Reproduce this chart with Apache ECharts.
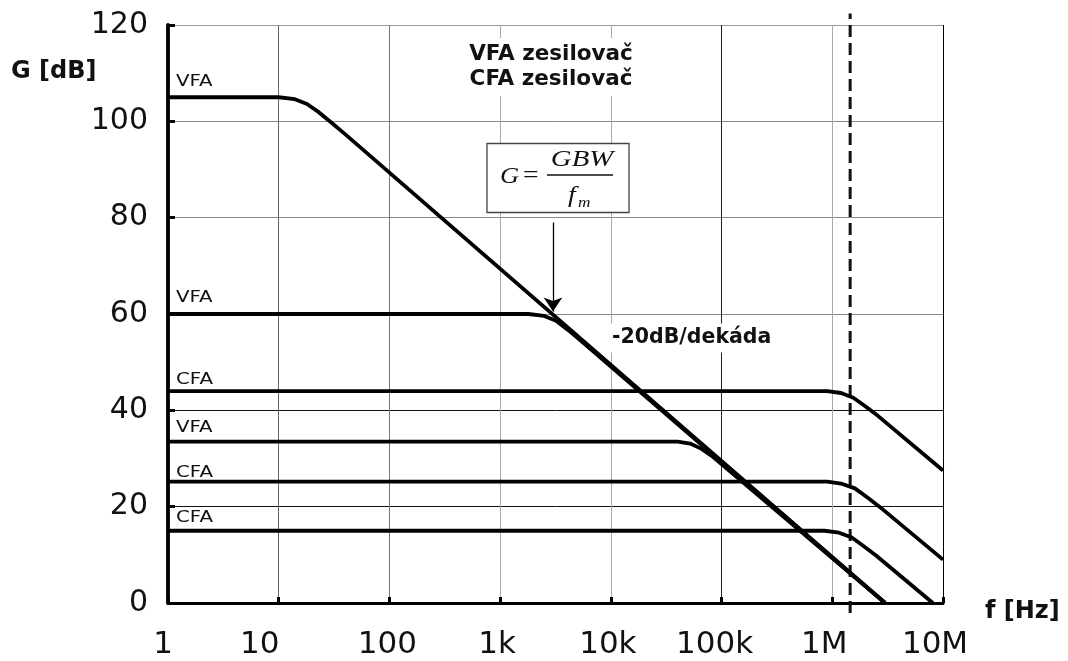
<!DOCTYPE html>
<html>
<head>
<meta charset="utf-8">
<script src="https://cdn.jsdelivr.net/npm/echarts@6/dist/echarts.min.js"></script>
<style>html,body{margin:0;padding:0;background:#fff}#c{width:1068px;height:661px}</style>
</head>
<body>
<div id="c"></div>
<script>
// Frequency decades and their labels
const freqTicks = [1, 10, 100, 1e3, 1e4, 1e5, 1e6, 1e7];
const freqLabels = ['1', '10', '100', '1k', '10k', '100k', '1M', '10M'];
// Gain axis
const gainMin = 0, gainMax = 120, gainStep = 20;

// Curves [frequency Hz, gain dB]
const vfa105 = [[1, 105], [10, 105], [14, 104.6], [18, 103.6], [23, 101.9], [30, 99.7], [40, 97.3], [3e6, 0]];
const vfa60  = [[1, 60], [1800, 60], [2500, 59.6], [3200, 58.6], [4100, 56.7], [5400, 54.4], [3e6, 0]];
const vfa34  = [[1, 33.5], [40000, 33.5], [52000, 33.1], [66000, 32.0], [84000, 30.3], [110000, 28.0], [3e6, 0]];
const cfa44  = [[1, 44], [0.9e6, 44], [1.2e6, 43.6], [1.55e6, 42.6], [2e6, 40.8], [2.6e6, 38.8], [1e7, 27.5]];
const cfa25  = [[1, 25.2], [0.9e6, 25.2], [1.2e6, 24.8], [1.6e6, 23.8], [2.05e6, 22.0], [2.7e6, 19.9], [1e7, 9]];
const cfa15  = [[1, 15], [0.85e6, 15], [1.15e6, 14.6], [1.5e6, 13.6], [1.9e6, 11.9], [2.5e6, 9.8], [8.1e6, 0]];
// Dashed marker at ~1.45 MHz
const dashedLine = [[1.45e6, -2.1], [1.45e6, 122.4]];
// Arrow pointing at GBW curve
const arrowFrom = [3000, 79], arrowTo = [3000, 60.5];

// Curve labels
const curveLabels = ['VFA', 'VFA', 'CFA', 'VFA', 'CFA', 'CFA'];

const chart = echarts.init(document.getElementById('c'), null, {renderer: 'canvas'});
const FONT = '"DejaVu Sans", sans-serif';
const curves = [vfa105, vfa60, vfa34, cfa44, cfa25, cfa15];
const labelCurveOrder = [0, 1, 3, 2, 4, 5];
const labelLift = [16, 16, 11, 14, 9, 13];

function curve(data) {
  return {
    type: 'line', data: data, showSymbol: false, smooth: false,
    lineStyle: {color: '#000', width: 3.8, join: 'round'}, z: 5, silent: true
  };
}

const series = curves.map(curve);
series[1].markLine = {
  silent: true, symbol: ['none', 'arrow'], symbolSize: 14,
  label: {show: false},
  lineStyle: {color: '#000', width: 1.3, type: 'solid'},
  data: [[{coord: arrowFrom}, {coord: arrowTo}]]
};
series.push({
  type: 'line', data: dashedLine, showSymbol: false, clip: false, silent: true,
  lineStyle: {color: '#111', width: 3, type: [12, 6]}, z: 4
});

// right padding per x label (nudges label left as in the reference)
const labelNudge = [10, 38, 4, 6, 6, 14, 16, 16];
const rich = {};
labelNudge.forEach(function (n, i) {
  rich['p' + i] = {fontFamily: FONT, fontSize: 31, color: '#111', padding: [0, n, 0, 0]};
});

const option = {
  animation: false,
  backgroundColor: '#fff',
  grid: {left: 168, right: 125, top: 25, bottom: 58},
  xAxis: {
    type: 'log', logBase: 10, min: freqTicks[0], max: freqTicks[freqTicks.length - 1],
    axisLine: {lineStyle: {color: '#000', width: 3}},
    axisTick: {inside: true, length: 6, lineStyle: {color: '#000', width: 3}},
    axisLabel: {
      fontFamily: FONT, fontSize: 31, color: '#111', margin: 26, rich: rich,
      formatter: function (v) {
        const k = Math.round(Math.log10(v));
        return freqLabels[k] !== undefined ? '{p' + k + '|' + freqLabels[k] + '}' : '';
      }
    },
    splitLine: {show: true, lineStyle: {width: 1, color: ['#000', '#666', '#777', '#aaa', '#aaa', '#222', '#aaa', '#000']}},
    minorTick: {show: false}
  },
  yAxis: {
    type: 'value', min: gainMin, max: gainMax, interval: gainStep,
    axisLine: {show: true, lineStyle: {color: '#000', width: 3.8}},
    axisTick: {show: true, inside: true, length: 7, lineStyle: {color: '#000', width: 3}},
    axisLabel: {fontFamily: FONT, fontSize: 30, color: '#111', margin: 20},
    splitLine: {show: true, lineStyle: {width: 1, color: ['#000', '#111', '#111', '#888', '#888', '#888', '#999']}}
  },
  series: series
};
chart.setOption(option);

// Annotations
const g = [];
g.push({type: 'text', z: 100, style: {text: 'G [dB]', x: 11, y: 72, font: 'bold 24px ' + FONT, fill: '#111', verticalAlign: 'middle'}});
g.push({type: 'text', z: 100, style: {text: 'f [Hz]', x: 985, y: 612, font: 'bold 24px ' + FONT, fill: '#111', verticalAlign: 'middle'}});
curveLabels.forEach(function (txt, i) {
  const c = curves[labelCurveOrder[i]];
  const p = chart.convertToPixel({gridIndex: 0}, c[0]);
  g.push({type: 'text', z: 100, x: p[0] + 8, y: p[1] - labelLift[i], scaleX: 1.2,
    style: {text: txt, x: 0, y: 0, font: '16.5px ' + FONT, fill: '#111', verticalAlign: 'middle'}});
});
g.push({type: 'text', z: 100, style: {
  text: 'VFA zesilovač\nCFA zesilovač', x: 551, y: 67, font: 'bold 21.5px ' + FONT, fill: '#111',
  align: 'center', verticalAlign: 'middle', lineHeight: 25, backgroundColor: '#fff', padding: [4, 4, 4, 4]
}});
g.push({type: 'text', z: 100, style: {
  text: '-20dB/dekáda', x: 610, y: 338, font: 'bold 20.5px ' + FONT, fill: '#111',
  verticalAlign: 'middle', backgroundColor: '#fff', padding: [4, 2, 4, 2]
}});
// Formula box
g.push({type: 'rect', z: 100, shape: {x: 487, y: 143.5, width: 142, height: 69}, style: {fill: '#fff', stroke: '#444', lineWidth: 1.3}});
g.push({type: 'text', z: 101, scaleX: 1.15, x: 500, y: 177, style: {text: 'G', x: 0, y: 0, font: 'italic 23px "Liberation Serif", serif', fill: '#111', verticalAlign: 'middle'}});
g.push({type: 'text', z: 101, scaleX: 1.2, x: 523, y: 176, style: {text: '=', x: 0, y: 0, font: '23px "Liberation Serif", serif', fill: '#111', verticalAlign: 'middle'}});
g.push({type: 'line', z: 101, shape: {x1: 547, y1: 175, x2: 613, y2: 175}, style: {stroke: '#111', lineWidth: 1.3}});
g.push({type: 'text', z: 101, scaleX: 1.25, x: 582, y: 160, style: {text: 'GBW', x: 0, y: 0, font: 'italic 23px "Liberation Serif", serif', fill: '#111', align: 'center', verticalAlign: 'middle'}});
g.push({type: 'text', z: 101, scaleX: 1.15, x: 568, y: 196, style: {text: 'f', x: 0, y: 0, font: 'italic 24px "Liberation Serif", serif', fill: '#111', verticalAlign: 'middle'}});
g.push({type: 'text', z: 101, scaleX: 1.15, x: 578, y: 203, style: {text: 'm', x: 0, y: 0, font: 'italic 15px "Liberation Serif", serif', fill: '#111', verticalAlign: 'middle'}});
chart.setOption({graphic: {elements: g}});
</script>
</body>
</html>
